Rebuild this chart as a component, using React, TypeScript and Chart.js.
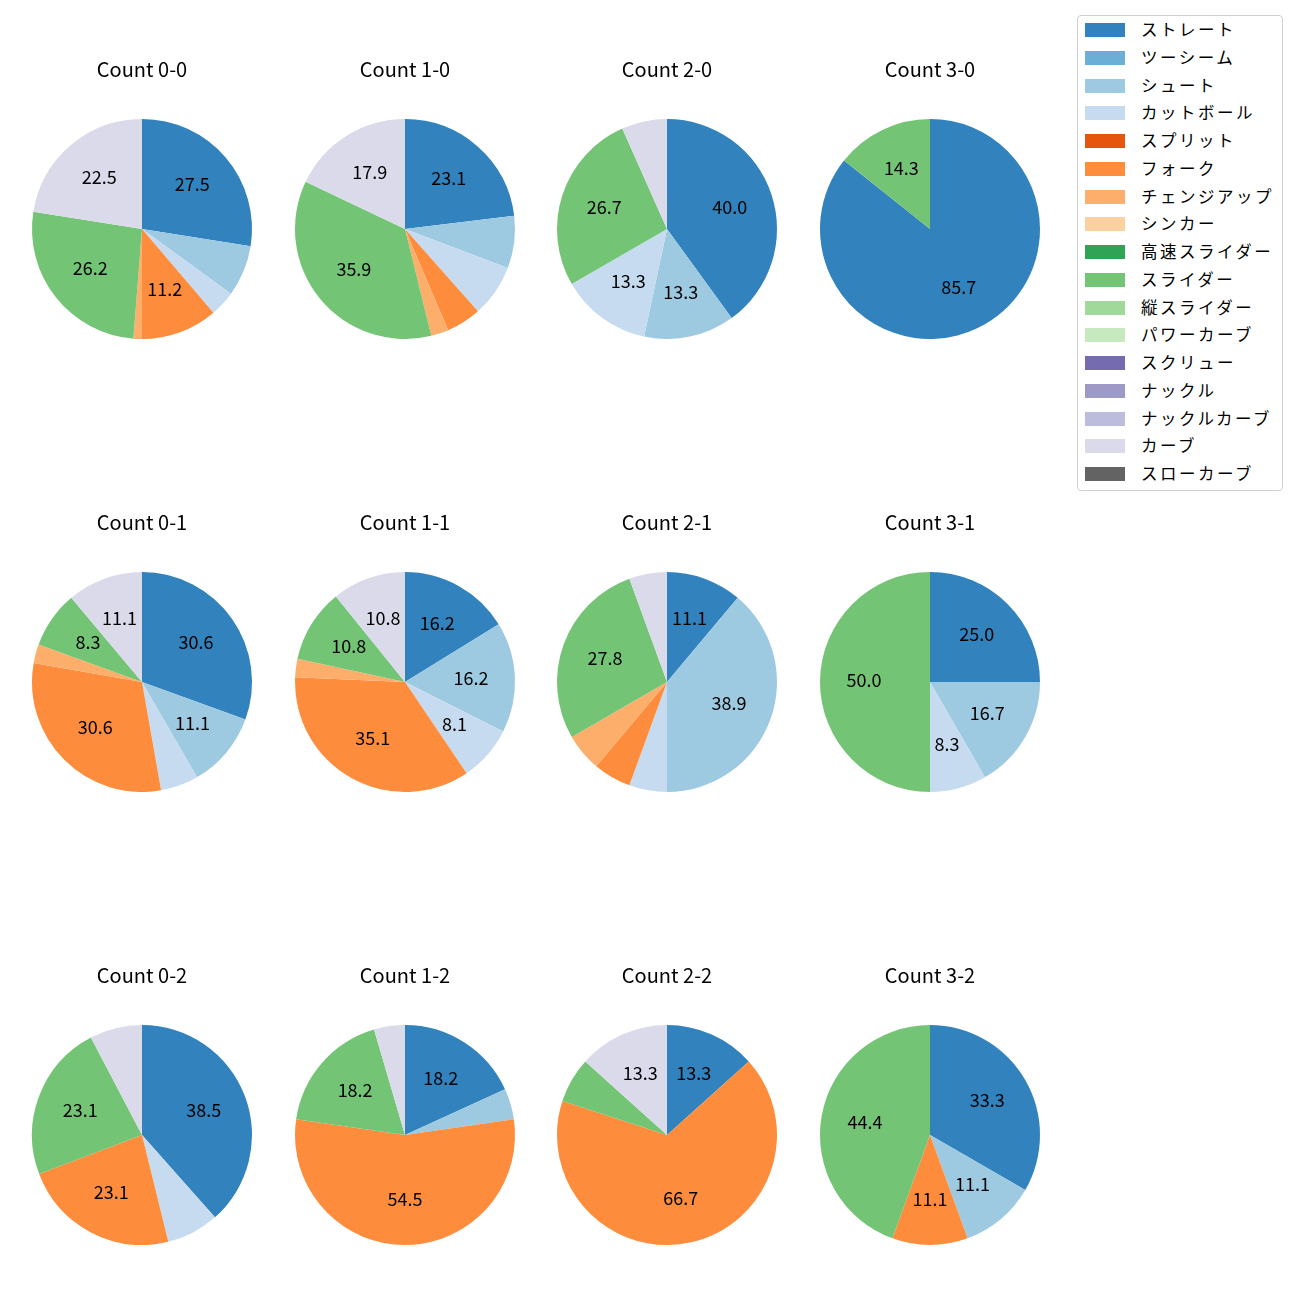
import React, { useEffect, useRef } from "react";
import { Chart, registerables } from "chart.js";

Chart.register(...registerables);

const FONT = "'Noto Sans CJK JP', 'Noto Sans', sans-serif";

const pitchTypes = [
  "ストレート", "ツーシーム", "シュート", "カットボール", "スプリット", "フォーク",
  "チェンジアップ", "シンカー", "高速スライダー", "スライダー", "縦スライダー",
  "パワーカーブ", "スクリュー", "ナックル", "ナックルカーブ", "カーブ", "スローカーブ",
];

const pitchColors = [
  "#3182bd", "#6baed6", "#9ecae1", "#c6dbef", "#e6550d", "#fd8d3c",
  "#fdae6b", "#fdd0a2", "#31a354", "#74c476", "#a1d99b", "#c7e9c0",
  "#756bb1", "#9e9ac8", "#bcbddc", "#dadaeb", "#636363",
];

const countTitles = [
  "Count 0-0", "Count 1-0", "Count 2-0", "Count 3-0",
  "Count 0-1", "Count 1-1", "Count 2-1", "Count 3-1",
  "Count 0-2", "Count 1-2", "Count 2-2", "Count 3-2",
];

// pitch counts per situation, in pitchTypes order
const count00 = [22, 0, 6, 3, 0, 9, 1, 0, 0, 21, 0, 0, 0, 0, 0, 18, 0];
const count10 = [9, 0, 3, 3, 0, 2, 1, 0, 0, 14, 0, 0, 0, 0, 0, 7, 0];
const count20 = [6, 0, 2, 2, 0, 0, 0, 0, 0, 4, 0, 0, 0, 0, 0, 1, 0];
const count30 = [6, 0, 0, 0, 0, 0, 0, 0, 0, 1, 0, 0, 0, 0, 0, 0, 0];
const count01 = [11, 0, 4, 2, 0, 11, 1, 0, 0, 3, 0, 0, 0, 0, 0, 4, 0];
const count11 = [6, 0, 6, 3, 0, 13, 1, 0, 0, 4, 0, 0, 0, 0, 0, 4, 0];
const count21 = [2, 0, 7, 1, 0, 1, 1, 0, 0, 5, 0, 0, 0, 0, 0, 1, 0];
const count31 = [3, 0, 2, 1, 0, 0, 0, 0, 0, 6, 0, 0, 0, 0, 0, 0, 0];
const count02 = [5, 0, 0, 1, 0, 3, 0, 0, 0, 3, 0, 0, 0, 0, 0, 1, 0];
const count12 = [4, 0, 1, 0, 0, 12, 0, 0, 0, 4, 0, 0, 0, 0, 0, 1, 0];
const count22 = [2, 0, 0, 0, 0, 10, 0, 0, 0, 1, 0, 0, 0, 0, 0, 2, 0];
const count32 = [3, 0, 1, 0, 0, 1, 0, 0, 0, 4, 0, 0, 0, 0, 0, 0, 0];

const allCounts = [
  count00, count10, count20, count30,
  count01, count11, count21, count31,
  count02, count12, count22, count32,
];

const LABEL_MIN_PCT = 8;
const TITLE_SIZE = 20;
const LABEL_SIZE = 18;
const LEGEND_SIZE = 16.5;

// python-like "%.1f" (round half to even on exact halves)
function fmt1(v: number): string {
  const x = v * 10;
  const f = Math.floor(x);
  const d = x - f;
  let r: number;
  if (Math.abs(d - 0.5) < 1e-9) r = f % 2 === 0 ? f : f + 1;
  else r = Math.round(x);
  return (r / 10).toFixed(1);
}

const pctLabelPlugin = {
  id: "pctLabels",
  afterDatasetsDraw(chart: any) {
    const ctx = chart.ctx;
    const ds = chart.data.datasets[0];
    const data: number[] = ds.data;
    const total = data.reduce((a: number, b: number) => a + b, 0);
    const meta = chart.getDatasetMeta(0);
    ctx.save();
    ctx.font = `${LABEL_SIZE}px ${FONT}`;
    ctx.fillStyle = "#000";
    ctx.textAlign = "center";
    ctx.textBaseline = "middle";
    meta.data.forEach((arc: any, i: number) => {
      const v = data[i];
      if (!v) return;
      const pct = (100 * v) / total;
      if (pct < LABEL_MIN_PCT) return;
      const p = arc.getProps(["x", "y", "startAngle", "endAngle", "outerRadius"], true);
      const mid = (p.startAngle + p.endAngle) / 2;
      const r = p.outerRadius * 0.6;
      ctx.fillText(fmt1(pct), p.x + Math.cos(mid) * r, p.y + Math.sin(mid) * r - 1.5);
    });
    ctx.restore();
  },
};

const colCenters = [141.5, 404.5, 667, 930];
const rowCenters = [229, 681.5, 1134.5];
const RADIUS = 110;
const CW = 250;
const TITLE_PAD_TOP = 10;
const TITLE_LINE = TITLE_SIZE * 1.2;
const TITLE_PAD_BOTTOM = 160 - RADIUS - TITLE_LINE / 2;
const CH = TITLE_PAD_TOP + TITLE_LINE + TITLE_PAD_BOTTOM + 2 * RADIUS;

function PieChart({ idx }: { idx: number }) {
  const ref = useRef<HTMLCanvasElement | null>(null);
  useEffect(() => {
    if (!ref.current) return;
    const chart = new Chart(ref.current, {
      type: "pie",
      data: {
        labels: pitchTypes,
        datasets: [
          {
            data: allCounts[idx],
            backgroundColor: pitchColors,
            borderWidth: 0,
            hoverOffset: 0,
          },
        ],
      },
      options: {
        responsive: false,
        animation: false,
        devicePixelRatio: 1,
        layout: { padding: 0 },
        plugins: {
          legend: { display: false },
          tooltip: { enabled: false },
          title: {
            display: true,
            text: countTitles[idx],
            color: "#000",
            font: { family: FONT, size: TITLE_SIZE, weight: "normal", lineHeight: 1.2 },
            padding: { top: TITLE_PAD_TOP, bottom: TITLE_PAD_BOTTOM },
          },
        },
      } as any,
      plugins: [pctLabelPlugin],
    });
    return () => chart.destroy();
  }, [idx]);
  const col = idx % 4;
  const row = Math.floor(idx / 4);
  const left = colCenters[col] - CW / 2;
  const top = rowCenters[row] - RADIUS - TITLE_PAD_BOTTOM - TITLE_LINE - TITLE_PAD_TOP;
  return (
    <canvas
      ref={ref}
      width={CW}
      height={CH}
      style={{ position: "absolute", left, top, width: CW, height: CH }}
    />
  );
}

function Legend() {
  const rowStep = 27.75;
  return (
    <div
      style={{
        position: "absolute",
        left: 1077,
        top: 15,
        width: 206,
        height: 476,
        border: "1px solid #d0d0d0",
        borderRadius: 4,
        boxSizing: "border-box",
        background: "#fff",
        fontFamily: FONT,
        fontSize: LEGEND_SIZE,
        color: "#000",
      }}
    >
      {pitchTypes.map((name, i) => {
        const cy = 14 + i * rowStep;
        return (
          <React.Fragment key={name}>
            <div
              style={{
                position: "absolute",
                left: 7,
                top: cy - 7,
                width: 40,
                height: 14,
                background: pitchColors[i],
              }}
            />
            <div
              style={{
                position: "absolute",
                left: 63,
                top: cy - 13,
                height: 24,
                lineHeight: "24px",
                whiteSpace: "nowrap",
                letterSpacing: 2.5,
              }}
            >
              {name}
            </div>
          </React.Fragment>
        );
      })}
    </div>
  );
}

export default function App() {
  return (
    <div
      style={{
        position: "absolute",
        left: 0,
        top: 0,
        width: 1300,
        height: 1300,
        background: "#fff",
        overflow: "hidden",
      }}
    >
      {countTitles.map((_, i) => (
        <PieChart key={i} idx={i} />
      ))}
      <Legend />
    </div>
  );
}
